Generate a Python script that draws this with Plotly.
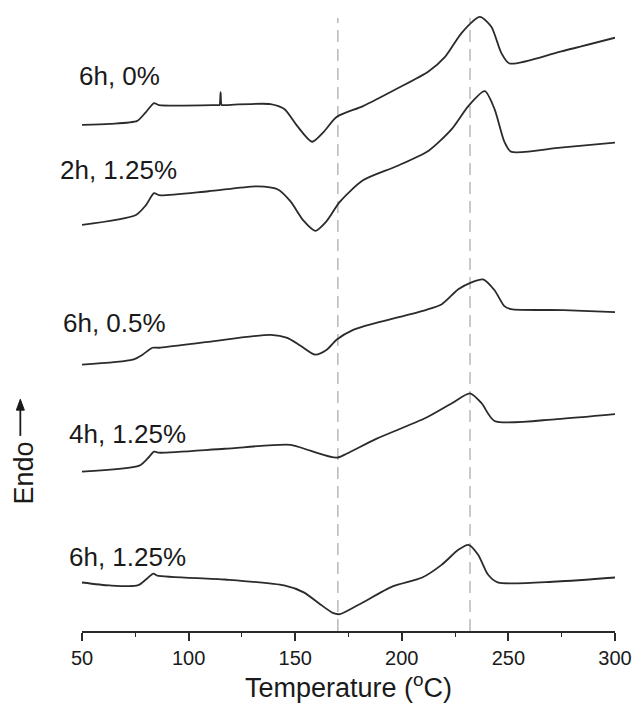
import plotly.graph_objects as go

# DSC heating curves: temperature (°C) vs. heat flow (arbitrary units, curves stacked)
labels = ["6h, 0%", "2h, 1.25%", "6h, 0.5%", "4h, 1.25%", "6h, 1.25%"]

t_6h_0 = [50, 63, 75.9, 80, 83.8, 86.1, 113.9, 114.5, 115, 115.5, 116.5, 138.4, 144.9, 150.9,
          157.9, 163.4, 169.4, 181.8, 197.2, 212.5, 220.4, 228.1, 236.6, 242, 246.6, 250.5,
          274.4, 300]
hf_6h_0 = [51.1, 51.2, 51.5, 52.4, 53.3, 53.1, 53.1, 53.1, 54.4, 53.1, 53.1, 53.2, 52.7, 51.0,
           49.4, 50.4, 51.9, 53.0, 54.7, 56.5, 58.0, 60.4, 62.0, 61.0, 58.4, 57.3,
           58.5, 59.9]

t_2h_125 = [50, 75.3, 80, 83.8, 86.1, 109.3, 132.4, 141.7, 147.7, 154, 159.4, 164.8, 170.8,
            181.8, 197.2, 212.6, 223.5, 231.2, 238.9, 243.5, 248.1, 251.2, 274.4, 300]
hf_2h_125 = [41.0, 42.0, 43.0, 44.2, 44.0, 44.4, 44.9, 44.6, 43.4, 41.4, 40.4, 41.4, 43.3,
             45.5, 46.9, 48.5, 50.7, 53.0, 54.5, 52.7, 49.4, 48.4, 48.8, 49.3]

t_6h_05 = [50, 73.8, 78.4, 83, 86.1, 109.3, 138.6, 146.3, 152.5, 159.4, 164.8, 169.4, 177.2,
           188, 211.1, 218.8, 226.5, 232.7, 238.1, 243.5, 248.1, 251.2, 275.9, 300]
hf_6h_05 = [26.9, 27.4, 27.9, 28.6, 28.6, 29.2, 29.9, 29.6, 28.8, 27.9, 28.4, 29.4, 30.4,
            31.1, 32.4, 33.0, 34.5, 35.2, 35.5, 34.4, 32.8, 32.5, 32.4, 32.2]

t_4h_125 = [50, 76.9, 80.7, 83.8, 86.1, 117, 147.8, 157.1, 169.4, 174.1, 188, 211.1, 223.5,
            232, 237.4, 243.5, 272.8, 300]
hf_4h_125 = [16.1, 16.7, 17.4, 18.1, 18.0, 18.4, 18.8, 18.2, 17.5, 17.9, 19.4, 21.5, 23.0,
             24.0, 23.0, 21.2, 21.4, 21.9]

t_6h_125 = [50, 63, 76.1, 80, 83.5, 85.3, 117, 144.8, 154, 161.7, 167.9, 171, 180.2, 195.7,
            209.6, 218.8, 226.5, 231.2, 235.8, 240.4, 245, 272.8, 300]
hf_6h_125 = [4.9, 4.6, 4.6, 5.2, 5.8, 5.6, 5.2, 4.6, 3.9, 2.7, 1.8, 1.7, 2.7, 4.5,
             5.4, 6.7, 8.2, 8.7, 7.7, 5.7, 4.9, 5.0, 5.4]

temps = [t_6h_0, t_2h_125, t_6h_05, t_4h_125, t_6h_125]
flows = [hf_6h_0, hf_2h_125, hf_6h_05, hf_4h_125, hf_6h_125]

# label anchors: left edge as a fraction of plot width, vertical centre in data units
label_px = [-0.010, -0.045, -0.039, -0.029, -0.029]
label_hf = [56.0, 46.5, 31.1, 19.9, 7.5]

# reference temperatures marked with dashed guides
ref_temps = [170, 232]

x_ticks = [50, 100, 150, 200, 250, 300]

FONT = "Liberation Sans, Arial, Helvetica, sans-serif"
LINE = "#2b2b2b"
TEXT = "#1a1a1a"

fig = go.Figure()
for t, hf, name in zip(temps, flows, labels):
    fig.add_trace(go.Scatter(
        x=t, y=hf, mode="lines", name=name,
        line=dict(color=LINE, width=1.8, shape="spline", smoothing=0.7),
        showlegend=False, hoverinfo="skip",
    ))

for rt in ref_temps:
    fig.add_shape(type="line", xref="x", yref="y", x0=rt, x1=rt, y0=0, y1=61.9,
                  line=dict(color="#bdbdbd", width=1.6, dash="12px,7px"), layer="below")

for name, lx, lh in zip(labels, label_px, label_hf):
    fig.add_annotation(x=lx, y=lh, xref="paper", yref="y", text=name, showarrow=False,
                       xanchor="left", yanchor="middle",
                       font=dict(family=FONT, size=26, color=TEXT))

# "Endo" direction indicator: rotated text plus an upward arrow
fig.add_annotation(x=-0.109, y=16.0, xref="paper", yref="y", text="Endo", showarrow=False,
                   textangle=-90, xanchor="center", yanchor="middle",
                   font=dict(family=FONT, size=27, color=TEXT))
ax_x = -0.1157
fig.add_shape(type="line", xref="paper", yref="y", x0=ax_x, x1=ax_x, y0=19.7, y1=22.6,
              line=dict(color=TEXT, width=1.8))
fig.add_shape(type="path", xref="paper", yref="y",
              path=f"M {ax_x - 0.0075} 22.3 L {ax_x} 23.4 L {ax_x + 0.0075} 22.3 Z",
              fillcolor=TEXT, line=dict(color=TEXT, width=1))

fig.update_layout(
    width=642, height=705,
    margin=dict(l=82, r=20, t=10, b=68),
    paper_bgcolor="white", plot_bgcolor="white",
    font=dict(family=FONT, color=TEXT),
    xaxis=dict(
        range=[50, 300], tickvals=x_ticks, ticks="outside", ticklen=8, tickwidth=1.5,
        tickcolor=LINE, showline=True, linewidth=1.6, linecolor=LINE,
        showgrid=False, zeroline=False,
        tickfont=dict(family=FONT, size=20, color=TEXT),
        minor=dict(dtick=25, ticks="outside", ticklen=4, tickwidth=1.3, tickcolor=LINE),
        title=dict(text="Temperature (<sup>o</sup>C)", standoff=7,
                   font=dict(family=FONT, size=27, color=TEXT)),
    ),
    yaxis=dict(range=[0, 62.7], visible=False),
)

fig.write_html("out.html")
